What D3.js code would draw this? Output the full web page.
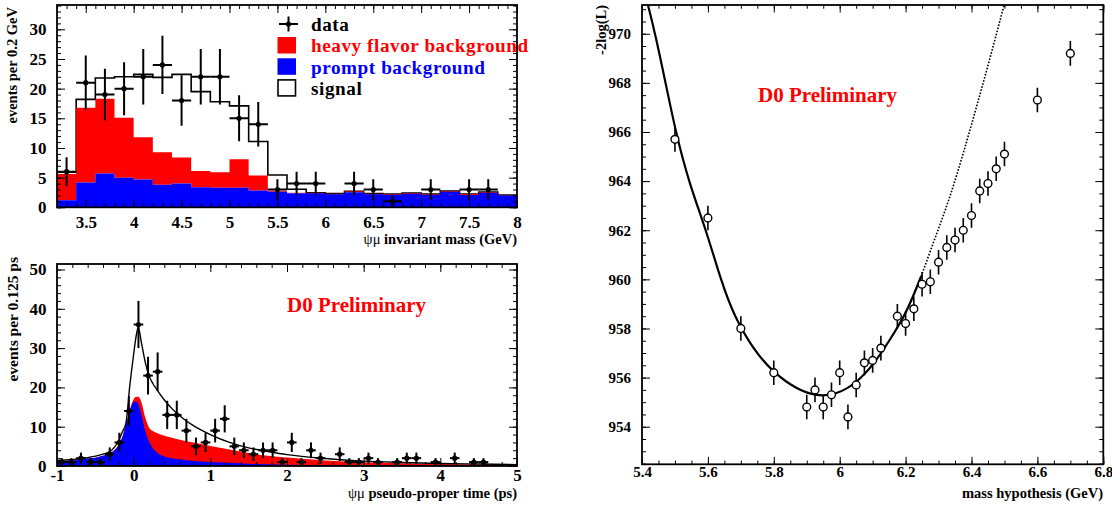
<!DOCTYPE html>
<html>
<head>
<meta charset="utf-8">
<script src="https://cdn.jsdelivr.net/npm/d3@7/dist/d3.min.js"></script>
<style>
  html, body { margin: 0; padding: 0; background: #fff; }
  svg { display: block; }
</style>
</head>
<body>
<svg id="chart" width="1112" height="508"></svg>
<script>
// ---------- psi-mu invariant mass, 0.2 GeV bins ----------
const massCenters = [3.3, 3.5, 3.7, 3.9, 4.1, 4.3, 4.5, 4.7, 4.9, 5.1, 5.3, 5.5,
                     5.7, 5.9, 6.1, 6.3, 6.5, 6.7, 6.9, 7.1, 7.3, 7.5, 7.7, 7.9];
const massBinWidth = 0.2;
const promptMass = [1.2, 4.2, 5.7, 5.0, 4.7, 3.8, 4.0, 3.4, 3.3, 3.3, 2.85, 2.64,
                    2.36, 2.36, 2.19, 2.53, 2.19, 2.13, 2.3, 2.13, 2.64, 2.08, 2.47, 1.97];
const heavyMass = [4.4, 12.6, 12.6, 10.1, 7.1, 5.5, 4.4, 2.7, 2.6, 4.8, 2.5, 0.16,
                   0.11, 0.09, 0.11, 0.17, 0.11, 0.12, 0.1, 0.12, 0.11, 0.17, 0.11, 0.11];
const signalMass = [0.3, 1.4, 3.5, 6.9, 10.6, 12.6, 14.0, 13.4, 11.9, 9.0, 5.75, 2.65,
                    0.56, 0, 0, 0, 0, 0, 0, 0, 0, 0, 0, 0];
const dataMass = [6, 21, 19, 20, 22, 24, 18, 22, 22, 15, 14, 3,
                  4, 4, 0, 4, 3, 1, 0, 3, 0, 3, 3, 0];
const dataMassErr = [2.45, 4.58, 4.36, 4.47, 4.69, 4.90, 4.24, 4.69, 4.69, 3.87, 3.74, 1.73,
                     2.00, 2.00, 0, 2.00, 1.73, 1.00, 0, 1.73, 0, 1.73, 1.73, 0];
const massTicks = [3.5, 4, 4.5, 5, 5.5, 6, 6.5, 7, 7.5, 8];
const massCountTicks = [0, 5, 10, 15, 20, 25, 30];
const legendLabels = ["data", "heavy flavor background", "prompt background", "signal"];

// ---------- psi-mu pseudo-proper time, 0.125 ps bins ----------
const timeGrid = [-1, -0.8, -0.6, -0.5, -0.4, -0.3, -0.25, -0.2, -0.15, -0.1,
                  -0.05, 0, 0.03, 0.06, 0.1, 0.15, 0.2, 0.25, 0.3, 0.4,
                  0.5, 0.6, 0.8, 1.0, 1.25, 1.5, 1.75, 2, 2.5, 3,
                  3.5, 4, 4.5, 5];
const promptTime = [1.2, 1.4, 1.85, 2.1, 2.6, 3.3, 4.0, 5.2, 7.2, 10.5,
                    14.0, 16.3, 16.4, 15.8, 13.2, 9.0, 6.3, 4.5, 3.5, 2.4,
                    1.95, 1.7, 1.25, 1.0, 0.8, 0.6, 0.45, 0.35, 0.25, 0.18,
                    0.13, 0.1, 0.07, 0.05];
// prompt + heavy flavor (stacked)
const backgroundTime = [1.22, 1.42, 1.87, 2.12, 2.62, 3.33, 4.05, 5.27, 7.3, 10.7,
                        14.4, 17.0, 17.6, 17.6, 16.3, 12.4, 9.8, 8.9, 8.4, 7.7,
                        7.2, 6.7, 5.9, 5.1, 4.2, 3.3, 2.6, 2.15, 1.4, 0.95,
                        0.7, 0.5, 0.4, 0.3];
const fitTime = [1.4, 1.65, 2.1, 2.5, 3.0, 3.8, 4.8, 6.3, 8.6, 11.0,
                 20.5, 28.5, 32.8, 35.3, 31.5, 26.5, 23.0, 21.0, 19.5, 16.8,
                 14.6, 12.8, 10.0, 8.0, 6.0, 4.6, 3.7, 2.9, 1.9, 1.25,
                 0.9, 0.65, 0.5, 0.35];
const timeCenters = [-0.9375, -0.8125, -0.6875, -0.5625, -0.4375, -0.3125, -0.1875, -0.0625, 0.0625, 0.1875,
                     0.3125, 0.4375, 0.5625, 0.6875, 0.8125, 0.9375, 1.0625, 1.1875, 1.3125, 1.4375,
                     1.5625, 1.6875, 1.8125, 1.9375, 2.0625, 2.1875, 2.3125, 2.4375, 2.6875, 2.8125,
                     2.9375, 3.0625, 3.1875, 3.4375, 3.5625, 3.6875, 3.9375, 4.1875, 4.4375, 4.5625];
const timeBinWidth = 0.125;
const dataTime = [1, 1, 2, 1, 1, 3, 6, 14, 36, 23,
                  24, 13, 13, 9, 5, 6, 9, 12, 5, 4,
                  3, 4, 4, 1, 6, 1, 4, 2, 3, 1,
                  1, 2, 1, 1, 2, 2, 1, 2, 1, 1];
const dataTimeErr = [1, 1, 1.41, 1, 1, 1.73, 2.45, 3.74, 6, 4.8,
                     4.9, 3.61, 3.61, 3, 2.24, 2.45, 3, 3.46, 2.24, 2,
                     1.73, 2, 2, 1, 2.45, 1, 2, 1.41, 1.73, 1,
                     1, 1.41, 1, 1, 1.41, 1.41, 1, 1.41, 1, 1];
const timeTicks = [-1, 0, 1, 2, 3, 4, 5];
const timeCountTicks = [0, 10, 20, 30, 40, 50];

// ---------- likelihood scan vs mass hypothesis ----------
const hypMass = [5.5, 5.6, 5.7, 5.8, 5.9, 5.925, 5.95, 5.975, 6.0, 6.025,
                 6.05, 6.075, 6.1, 6.125, 6.175, 6.2, 6.225, 6.25, 6.275, 6.3,
                 6.325, 6.35, 6.375, 6.4, 6.425, 6.45, 6.475, 6.5, 6.6, 6.7];
const nllValues = [965.7, 962.5, 958.0, 956.2, 954.8, 955.5, 954.8, 955.3, 956.2, 954.4,
                   955.7, 956.6, 956.7, 957.2, 958.5, 958.2, 958.8, 959.8, 959.9, 960.7,
                   961.3, 961.6, 962.0, 962.6, 963.6, 963.9, 964.5, 965.1, 967.3, 969.2];
const nllErr = [0.5, 0.5, 0.5, 0.5, 0.5, 0.5, 0.5, 0.5, 0.5, 0.5,
                0.5, 0.5, 0.5, 0.5, 0.5, 0.5, 0.5, 0.5, 0.5, 0.5,
                0.5, 0.5, 0.5, 0.5, 0.5, 0.5, 0.5, 0.5, 0.5, 0.5];
const fitHyp = [5.418, 5.44, 5.47, 5.503, 5.543, 5.596, 5.642, 5.68, 5.738, 5.799,
                5.87, 5.93, 5.99, 6.052, 6.103, 6.153, 6.203, 6.247];
const fitNll = [971.17, 970.0, 968.1, 965.95, 963.92, 961.95, 959.85, 958.5, 957.14, 956.2,
                955.52, 955.24, 955.3, 955.79, 956.53, 957.55, 958.63, 960.12];
const extHyp = [6.247, 6.275, 6.335, 6.421, 6.499];
const extNll = [960.12, 961.15, 963.4, 967.3, 971.17];
const hypTicks = [5.4, 5.6, 5.8, 6, 6.2, 6.4, 6.6, 6.8];
const nllTicks = [954, 956, 958, 960, 962, 964, 966, 968, 970];

// ---------- drawing ----------
const FONT = "'Liberation Serif', 'Times New Roman', Times, serif";
const RED = "#ff0000", BLUE = "#0000ff";
const svg = d3.select("#chart");

const boxTop = { x0: 57, x1: 517, y0: 5, y1: 207.3 };
const boxBot = { x0: 57, x1: 517, y0: 264, y1: 466 };
const boxRight = { x0: 642, x1: 1103.3, y0: 5, y1: 464.3 };

const xMass = d3.scaleLinear().domain([3.2, 8]).range([boxTop.x0, boxTop.x1]);
const yMass = d3.scaleLinear().domain([0, 34.1]).range([boxTop.y1, boxTop.y0]);
const xTime = d3.scaleLinear().domain([-1, 5]).range([boxBot.x0, boxBot.x1]);
const yTime = d3.scaleLinear().domain([0, 51.4]).range([boxBot.y1, boxBot.y0]);
const xHyp = d3.scaleLinear().domain([5.4, 6.8]).range([boxRight.x0, boxRight.x1]);
const yNll = d3.scaleLinear().domain([952.47, 971.17]).range([boxRight.y1, boxRight.y0]);

function clipFor(id, b) {
  svg.append("clipPath").attr("id", id)
    .append("rect").attr("x", b.x0).attr("y", b.y0)
    .attr("width", b.x1 - b.x0).attr("height", b.y1 - b.y0);
  return svg.append("g").attr("clip-path", `url(#${id})`);
}

function styleAxis(g, fontSize) {
  g.select(".domain").remove();
  g.attr("font-family", FONT).attr("font-size", fontSize).attr("font-weight", "bold");
  g.selectAll("line").attr("stroke", "#000").attr("stroke-width", 1);
  g.selectAll("text").attr("fill", "#000");
}

// Frame with inward major/minor ticks on all four sides
function frame(b, x, y, o) {
  const fmt = d => String(d);
  const layers = [
    [d3.axisBottom(x).tickValues(o.xMajor).tickSizeInner(-o.xLen).tickPadding(o.xPad).tickFormat(fmt), `translate(0,${b.y1})`],
    [d3.axisBottom(x).tickValues(o.xMinor).tickSizeInner(-o.xLen / 2).tickFormat(""), `translate(0,${b.y1})`],
    [d3.axisTop(x).tickValues(o.xMajor).tickSizeInner(-o.xLen).tickFormat(""), `translate(0,${b.y0})`],
    [d3.axisTop(x).tickValues(o.xMinor).tickSizeInner(-o.xLen / 2).tickFormat(""), `translate(0,${b.y0})`],
    [d3.axisLeft(y).tickValues(o.yMajor).tickSizeInner(-o.yLen).tickPadding(o.yPad).tickFormat(fmt), `translate(${b.x0},0)`],
    [d3.axisLeft(y).tickValues(o.yMinor).tickSizeInner(-o.yLen / 2).tickFormat(""), `translate(${b.x0},0)`],
    [d3.axisRight(y).tickValues(o.yMajor).tickSizeInner(-o.yLen).tickFormat(""), `translate(${b.x1},0)`],
    [d3.axisRight(y).tickValues(o.yMinor).tickSizeInner(-o.yLen / 2).tickFormat(""), `translate(${b.x1},0)`]
  ];
  layers.forEach(([ax, tr]) => {
    const g = svg.append("g").attr("transform", tr).call(ax.tickSizeOuter(0));
    styleAxis(g, o.fontSize);
  });
  svg.append("rect").attr("x", b.x0).attr("y", b.y0)
    .attr("width", b.x1 - b.x0).attr("height", b.y1 - b.y0)
    .attr("fill", "none").attr("stroke", "#000").attr("stroke-width", 1.8);
}

function minorRange(a, b, step) {
  return d3.range(Math.round((b - a) / step) + 1).map(i => +(a + i * step).toFixed(4));
}

function text(x, y, str, opts = {}) {
  const t = svg.append("text").attr("x", x).attr("y", y)
    .attr("font-family", FONT).attr("font-weight", "bold")
    .attr("font-size", opts.size || 14.5).attr("fill", opts.fill || "#000")
    .attr("text-anchor", opts.anchor || "start");
  if (opts.spacing) t.attr("letter-spacing", opts.spacing);
  if (opts.rotate) t.attr("transform", `rotate(-90,${x},${y})`);
  return t.text(str);
}

// Axis title that starts with the psi-mu symbols in a plain weight
function psiMuTitle(x, y, rest) {
  const t = svg.append("text").attr("x", x).attr("y", y)
    .attr("font-family", FONT).attr("font-size", 14.5).attr("text-anchor", "end");
  t.append("tspan").attr("font-weight", "normal").text("ψμ");
  t.append("tspan").attr("font-weight", "bold").text(" " + rest);
}

// ===== top-left: invariant mass stack =====
(function () {
  const g = clipFor("clipMass", boxTop);
  const half = massBinWidth / 2;
  const rows = massCenters.map((c, i) => {
    const p = promptMass[i], h = p + heavyMass[i], s = h + signalMass[i];
    return { c, p, h, s };
  });
  const stepPts = [];
  rows.forEach(r => { stepPts.push({ x: r.c - half, ...r }); stepPts.push({ x: r.c + half, ...r }); });

  // total (signal outline) first, then heavy flavor, then prompt on top
  const outline = [{ x: 3.2, s: 0 }, ...stepPts, { x: 8, s: 0 }];
  g.append("path")
    .attr("d", d3.line().x(d => xMass(d.x)).y(d => yMass(d.s))(outline))
    .attr("fill", "#fff").attr("stroke", "#000").attr("stroke-width", 1.6);
  g.append("path")
    .attr("d", d3.area().x(d => xMass(d.x)).y0(d => yMass(d.p)).y1(d => yMass(d.h))(stepPts))
    .attr("fill", RED);
  g.append("path")
    .attr("d", d3.area().x(d => xMass(d.x)).y0(yMass(0)).y1(d => yMass(d.p))(stepPts))
    .attr("fill", BLUE);

  const pts = massCenters.map((c, i) => ({ c, v: dataMass[i], e: dataMassErr[i] })).filter(d => d.v > 0);
  const dg = g.append("g").attr("stroke", "#000").attr("stroke-width", 2);
  pts.forEach(d => {
    dg.append("line").attr("x1", xMass(d.c)).attr("x2", xMass(d.c))
      .attr("y1", yMass(d.v - d.e)).attr("y2", yMass(d.v + d.e));
    dg.append("line").attr("x1", xMass(d.c - half)).attr("x2", xMass(d.c + half))
      .attr("y1", yMass(d.v)).attr("y2", yMass(d.v));
  });
  g.append("g").selectAll("circle").data(pts).join("circle")
    .attr("cx", d => xMass(d.c)).attr("cy", d => yMass(d.v)).attr("r", 2.6).attr("fill", "#000");

  frame(boxTop, xMass, yMass, {
    xMajor: massTicks, xMinor: minorRange(3.2, 8, 0.1),
    yMajor: massCountTicks, yMinor: minorRange(0, 34, 1),
    xLen: 8, yLen: 8, xPad: 8.5, yPad: 10.5, fontSize: 17
  });

  // legend: one row per entry, markers left of the labels
  const rowH = 21.3, base0 = 31;
  const lg = svg.append("g");
  const cy = i => base0 + i * rowH - 7;
  lg.append("line").attr("x1", 279).attr("x2", 298).attr("y1", cy(0)).attr("y2", cy(0)).attr("stroke", "#000").attr("stroke-width", 2);
  lg.append("line").attr("x1", 288.5).attr("x2", 288.5).attr("y1", cy(0) - 7.5).attr("y2", cy(0) + 7.5).attr("stroke", "#000").attr("stroke-width", 2);
  lg.append("circle").attr("cx", 288.5).attr("cy", cy(0)).attr("r", 2.6).attr("fill", "#000");
  lg.append("rect").attr("x", 277.5).attr("y", cy(1) - 8.3).attr("width", 18.5).attr("height", 16.5).attr("fill", RED);
  lg.append("rect").attr("x", 277.5).attr("y", cy(2) - 8.3).attr("width", 18.5).attr("height", 16.5).attr("fill", BLUE);
  lg.append("rect").attr("x", 278).attr("y", cy(3) - 8).attr("width", 17.5).attr("height", 16).attr("fill", "#fff")
    .attr("stroke", "#000").attr("stroke-width", 1.6);
  const legendFills = ["#000", RED, BLUE, "#000"];
  legendLabels.forEach((lab, i) =>
    text(311, base0 + i * rowH, lab, { size: 19.2, fill: legendFills[i], spacing: 0.55 }));

  psiMuTitle(517, 244, "invariant mass (GeV)");
  text(17, 7, "events per 0.2 GeV", { size: 14.5, anchor: "end", rotate: true });
})();

// ===== bottom-left: pseudo-proper time =====
(function () {
  const g = clipFor("clipTime", boxBot);
  const rows = timeGrid.map((t, i) => ({ t, p: promptTime[i], b: backgroundTime[i], f: fitTime[i] }));
  const curve = d3.curveMonotoneX;
  g.append("path")
    .attr("d", d3.area().curve(curve).x(d => xTime(d.t)).y0(yTime(0)).y1(d => yTime(d.b))(rows))
    .attr("fill", RED);
  g.append("path")
    .attr("d", d3.area().curve(curve).x(d => xTime(d.t)).y0(yTime(0)).y1(d => yTime(d.p))(rows))
    .attr("fill", BLUE);
  g.append("path")
    .attr("d", d3.line().curve(curve).x(d => xTime(d.t)).y(d => yTime(d.f))(rows))
    .attr("fill", "none").attr("stroke", "#000").attr("stroke-width", 1.4);

  const half = timeBinWidth / 2;
  const pts = timeCenters.map((c, i) => ({ c, v: dataTime[i], e: dataTimeErr[i] }));
  const dg = g.append("g").attr("stroke", "#000").attr("stroke-width", 2);
  pts.forEach(d => {
    dg.append("line").attr("x1", xTime(d.c)).attr("x2", xTime(d.c))
      .attr("y1", yTime(d.v - d.e)).attr("y2", yTime(d.v + d.e));
    dg.append("line").attr("x1", xTime(d.c - half)).attr("x2", xTime(d.c + half))
      .attr("y1", yTime(d.v)).attr("y2", yTime(d.v));
  });
  g.append("g").selectAll("circle").data(pts).join("circle")
    .attr("cx", d => xTime(d.c)).attr("cy", d => yTime(d.v)).attr("r", 2.6).attr("fill", "#000");

  frame(boxBot, xTime, yTime, {
    xMajor: timeTicks, xMinor: minorRange(-1, 5, 0.2),
    yMajor: timeCountTicks, yMinor: minorRange(0, 50, 2),
    xLen: 8, yLen: 8, xPad: 2.5, yPad: 10.5, fontSize: 17
  });

  text(287, 312, "D0 Preliminary", { size: 21, fill: RED });
  psiMuTitle(517, 498, "pseudo-proper time (ps)");
  text(18, 257, "events per 0.125 ps", { size: 15.5, anchor: "end", rotate: true });
})();

// ===== right: -2log(L) scan =====
(function () {
  const g = clipFor("clipScan", boxRight);
  g.append("path")
    .attr("d", d3.line().curve(d3.curveMonotoneX).x(d => xHyp(d)).y((d, i) => yNll(extNll[i]))(extHyp))
    .attr("fill", "none").attr("stroke", "#000").attr("stroke-width", 1.6).attr("stroke-dasharray", "1.6,1.6");
  g.append("path")
    .attr("d", d3.line().curve(d3.curveBasis).x(d => xHyp(d)).y((d, i) => yNll(fitNll[i]))(fitHyp))
    .attr("fill", "none").attr("stroke", "#000").attr("stroke-width", 2.2);

  const pts = hypMass.map((m, i) => ({ m, v: nllValues[i], e: nllErr[i] }));
  g.append("g").selectAll("line").data(pts).join("line")
    .attr("x1", d => xHyp(d.m)).attr("x2", d => xHyp(d.m))
    .attr("y1", d => yNll(d.v - d.e)).attr("y2", d => yNll(d.v + d.e))
    .attr("stroke", "#000").attr("stroke-width", 1.6);
  g.append("g").selectAll("circle").data(pts).join("circle")
    .attr("cx", d => xHyp(d.m)).attr("cy", d => yNll(d.v)).attr("r", 3.9)
    .attr("fill", "#fff").attr("stroke", "#000").attr("stroke-width", 1.4);

  frame(boxRight, xHyp, yNll, {
    xMajor: hypTicks, xMinor: minorRange(5.4, 6.8, 0.05),
    yMajor: nllTicks, yMinor: minorRange(952.5, 971, 0.5),
    xLen: 7.5, yLen: 8, xPad: 2.5, yPad: 11, fontSize: 15
  });

  text(758, 102, "D0 Preliminary", { size: 21, fill: RED });
  text(1103, 498, "mass hypothesis (GeV)", { size: 14.5, anchor: "end" });
  text(606, 5, "-2log(L)", { size: 14.5, anchor: "end", rotate: true });
})();
</script>
</body>
</html>
